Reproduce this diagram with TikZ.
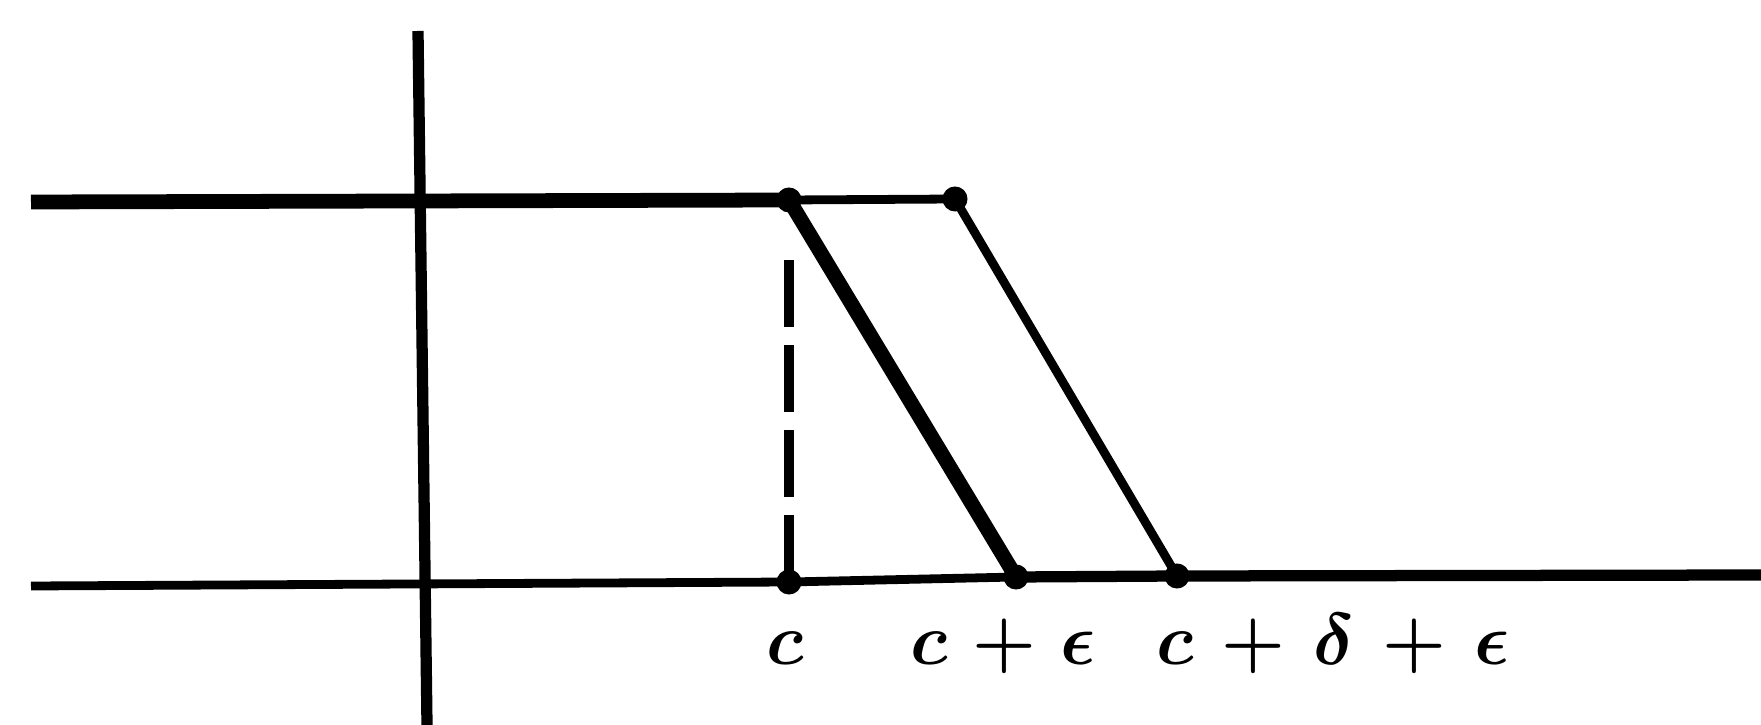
\documentclass[tikz,border=0pt]{standalone}
\usetikzlibrary{positioning}

\begin{document}
\begin{tikzpicture}[
    x=0.01cm, y=-0.01cm,
    dot/.style={circle, fill, inner sep=0pt, minimum size=0.25cm},
    heavy/.style={line width=4.2pt},
    medium/.style={line width=3.2pt},
    light/.style={line width=2.5pt},
    guide/.style={line width=3pt, dash pattern=on 0.67cm off 0.18cm},
    lbl/.style={anchor=base, font=\fontsize{20}{24}\selectfont\boldmath}
]
\useasboundingbox (0,0) rectangle (1761,725);

% vertical axis
\coordinate (axtop) at (418,31);
\coordinate (axbot) at (427,725);
\draw[medium] (axtop) -- (axbot);

% free ends of the two levels
\coordinate (topL) at (31,202);
\coordinate (botL) at (31,586);
\coordinate (botR) at (1761,575);
\coordinate (guidetop) at (789,258);

% corner points
\node[dot] (a) at (789,200) {};
\node[dot] (b) at (955,199) {};
\node[dot] (c) at (789,582) {};
\node[dot] (d) at (1016,577) {};
\node[dot] (e) at (1177,576) {};

% levels
\draw[heavy] (topL) -- (a.center);
\draw[light] (a.center) -- (b.center);
\draw[light] (botL) -- (c.center) -- (d.center);
\draw[medium] (d.center) -- (e.center) -- (botR);

% slopes
\draw[heavy] (a.center) -- (d.center);
\draw[light] (b.center) -- (e.center);
\draw[guide] (c.center) -- (guidetop);

% labels
\node[lbl] (lc) at (785,665) {$c$};
\node[lbl] (lce) at (1003,665) {$c\mkern1.3mu+\mkern1.3mu\epsilon$};
\node[lbl] (lcde) at (1333,665) {$c\mkern2mu+\mkern2mu\delta\mkern2mu+\mkern2mu\epsilon$};

\end{tikzpicture}
\end{document}
